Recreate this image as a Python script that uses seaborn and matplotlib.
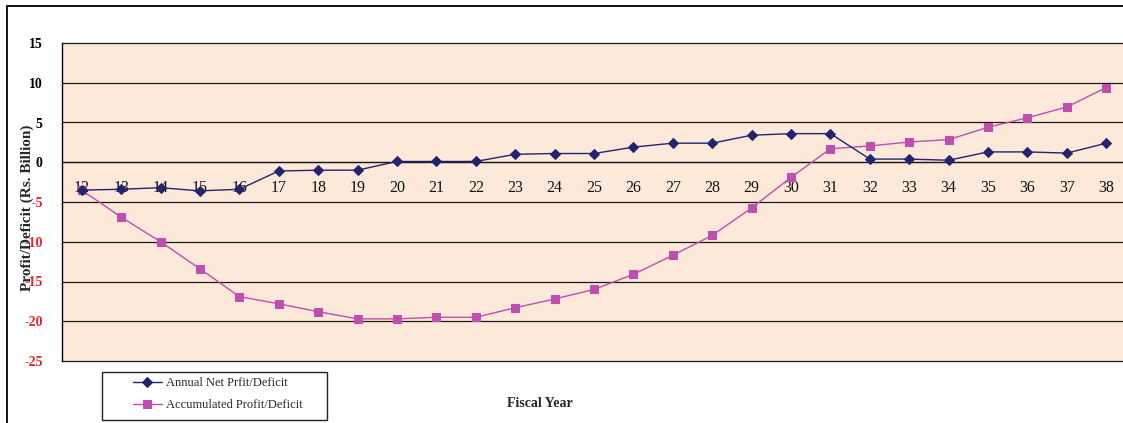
import matplotlib
matplotlib.use("Agg")
import matplotlib.pyplot as plt
from matplotlib.patches import Rectangle
from matplotlib.ticker import FixedLocator
import seaborn as sns
import pandas as pd

# Fiscal years (two-digit) and profit/deficit series in Rs. Billion
years = list(range(12, 39))
annual_net = [-3.5, -3.4, -3.2, -3.6, -3.4, -1.1, -1.0, -1.0, 0.1, 0.1,
              0.1, 1.0, 1.1, 1.1, 1.9, 2.4, 2.4, 3.4, 3.6, 3.6,
              0.4, 0.4, 0.25, 1.3, 1.3, 1.15, 2.4]
accumulated = [-3.5, -6.9, -10.0, -13.4, -16.9, -17.8, -18.8, -19.7, -19.7, -19.5,
               -19.5, -18.3, -17.2, -16.0, -14.1, -11.7, -9.2, -5.75, -1.9, 1.7,
               2.05, 2.55, 2.85, 4.4, 5.6, 6.95, 9.4]
series_names = ["Annual Net Prfit/Deficit", "Accumulated Profit/Deficit"]
y_ticks = [-25, -20, -15, -10, -5, 0, 5, 10, 15]

df = pd.DataFrame({"year": years, "annual": annual_net, "accum": accumulated})

sns.set_theme(style="white")
plt.rcParams["font.family"] = ["Liberation Serif", "DejaVu Serif"]

W, H = 1123, 423
fig = plt.figure(figsize=(W / 100, H / 100), dpi=100)
fig.patch.set_facecolor("white")

# plot area in pixel terms: left 62, right 1126, top 43, bottom 361
ax = fig.add_axes([62 / W, 1 - 361 / H, 1064 / W, 318 / H])
ax.set_facecolor("#FCE9D9")

navy = "#23236F"
magenta = "#BE4FAE"

sns.lineplot(data=df, x="year", y="annual", ax=ax, color=navy, lw=1.0,
             marker="D", markersize=5.5, markeredgecolor=navy,
             markerfacecolor=navy, label=series_names[0], legend=False, zorder=4)
sns.lineplot(data=df, x="year", y="accum", ax=ax, color=magenta, lw=1.0,
             marker="s", markersize=5.5, markeredgecolor=magenta,
             markerfacecolor=magenta, label=series_names[1], legend=False, zorder=3)

ax.set_xlim(11.5, 38.5)
ax.set_ylim(-25, 15)

# horizontal gridlines
ax.yaxis.set_major_locator(FixedLocator(y_ticks))
for v in y_ticks:
    ax.axhline(v, color="#1a1a1a", lw=0.9, zorder=1, clip_on=False)

# category axis crossing at zero
for side in ["top", "right"]:
    ax.spines[side].set_visible(False)
ax.spines["bottom"].set_position(("data", 0))
ax.spines["bottom"].set_color("#1a1a1a")
ax.spines["bottom"].set_linewidth(0.9)
ax.spines["left"].set_color("black")
ax.spines["left"].set_linewidth(1.0)

ax.xaxis.set_major_locator(FixedLocator(years))
ax.xaxis.set_minor_locator(FixedLocator([y + 0.5 for y in years]))
ax.set_xticklabels([str(y) for y in years], fontsize=11.5, color="#111111")
ax.tick_params(axis="x", which="major", length=0, pad=13)
ax.tick_params(axis="x", which="minor", length=5, width=0.9, direction="in",
               color="#1a1a1a")

ax.set_yticklabels([str(v) for v in y_ticks], fontsize=10, fontweight="bold")
for lab, v in zip(ax.get_yticklabels(), y_ticks):
    lab.set_color("#E8242B" if v < 0 else "black")
ax.tick_params(axis="y", length=0, pad=14)

ax.set_xlabel("")
ax.set_ylabel("")
fig.text(27 / W, 1 - 208 / H, "Profit/Deficit (Rs. Billion)",
         rotation=90, ha="center", va="center", fontsize=11, fontweight="bold")

fig.text(540 / W, 1 - 403 / H, "Fiscal Year", ha="center", va="center",
         fontsize=10, fontweight="bold")

# legend with a plain rectangular frame
handles = ax.get_lines()[:2]
fig.legend(handles=handles, labels=series_names, loc="upper left",
           bbox_to_anchor=(133 / W, 1 - 377 / H), frameon=False,
           fontsize=9, handlelength=2.3, handletextpad=0.3,
           labelspacing=0.8, borderaxespad=0, borderpad=0)
fig.add_artist(Rectangle((102 / W, 1 - 420 / H), 225 / W, 48 / H,
                         transform=fig.transFigure, fill=False,
                         edgecolor="#222222", lw=1.0))

# outer chart border
fig.add_artist(Rectangle((7 / W, -0.05), 1.1, 1.05 - 6 / H,
                         transform=fig.transFigure, fill=False,
                         edgecolor="black", lw=1.3))

fig.savefig("out.png", dpi=100)
